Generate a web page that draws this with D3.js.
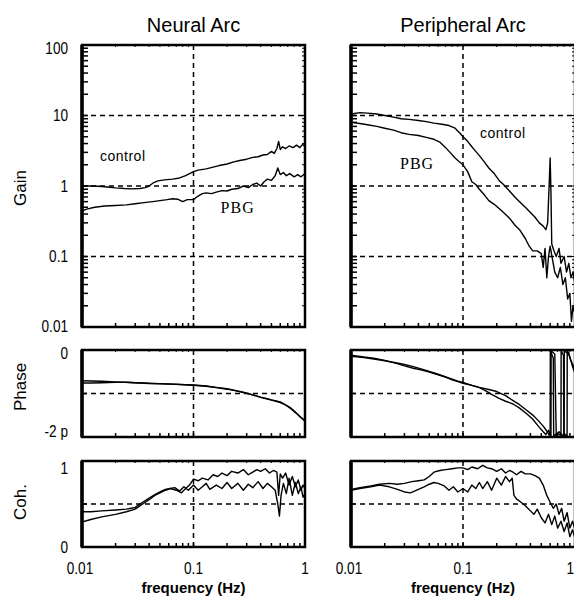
<!DOCTYPE html>
<html>
<head>
<meta charset="utf-8">
<script src="https://cdn.jsdelivr.net/npm/d3@7"></script>
<style>
  body { margin: 0; background: #fff; }
  svg { display: block; }
  .tick-label { font-family: "Liberation Sans", Arial, sans-serif; font-size: 17px; }
</style>
</head>
<body>
<div id="chart"></div>
<script>
// frequency (Hz) / value pairs
const neuralGainControl = [[0.01,1.0],[0.012,1.0],[0.014,0.99],[0.017,0.97],[0.02,0.94],[0.024,0.92],[0.028,0.91],[0.033,0.92],[0.037,0.95],[0.04,1.0],[0.044,1.12],[0.048,1.18],[0.055,1.22],[0.065,1.25],[0.075,1.3],[0.085,1.4],[0.1,1.6],[0.11,1.68],[0.13,1.75],[0.15,1.85],[0.17,1.95],[0.2,2.05],[0.23,2.2],[0.26,2.3],[0.3,2.4],[0.34,2.55],[0.38,2.6],[0.42,2.75],[0.46,2.8],[0.5,3.1],[0.53,2.9],[0.56,3.4],[0.58,4.3],[0.6,3.3],[0.63,3.6],[0.67,3.4],[0.72,3.7],[0.78,3.5],[0.84,3.8],[0.9,3.5],[0.95,3.9],[1.0,3.6]];
const neuralGainPBG = [[0.01,0.44],[0.011,0.47],[0.013,0.5],[0.016,0.52],[0.02,0.53],[0.025,0.54],[0.03,0.56],[0.036,0.58],[0.043,0.6],[0.05,0.62],[0.058,0.64],[0.065,0.66],[0.072,0.65],[0.08,0.6],[0.088,0.64],[0.1,0.64],[0.11,0.72],[0.12,0.78],[0.13,0.8],[0.145,0.78],[0.16,0.82],[0.18,0.86],[0.2,0.85],[0.22,0.9],[0.25,0.92],[0.28,1.0],[0.31,0.95],[0.34,1.05],[0.37,1.1],[0.4,1.0],[0.43,1.15],[0.46,1.25],[0.5,1.2],[0.54,1.4],[0.57,1.8],[0.6,1.45],[0.64,1.55],[0.68,1.4],[0.73,1.5],[0.8,1.35],[0.86,1.45],[0.92,1.35],[1.0,1.5]];
const periphGainControl = [[0.01,10.5],[0.012,11],[0.014,10.8],[0.017,10.5],[0.02,10],[0.024,9.5],[0.028,9.0],[0.033,8.8],[0.04,8.5],[0.047,8.2],[0.055,7.8],[0.065,7.5],[0.075,7.2],[0.085,6.6],[0.095,5.5],[0.1,5.0],[0.11,4.3],[0.12,3.6],[0.13,3.1],[0.14,2.7],[0.155,2.2],[0.17,1.8],[0.19,1.5],[0.21,1.2],[0.23,1.05],[0.26,0.85],[0.29,0.7],[0.32,0.6],[0.36,0.5],[0.4,0.42],[0.44,0.36],[0.48,0.3],[0.52,0.27],[0.55,0.24],[0.57,0.3],[0.59,1.2],[0.6,2.5],[0.61,0.8],[0.62,0.15],[0.65,0.12],[0.68,0.1],[0.72,0.13],[0.75,0.08],[0.8,0.1],[0.84,0.06],[0.88,0.08],[0.92,0.05],[0.96,0.06],[1.0,0.04]];
const periphGainPBG = [[0.01,8.0],[0.012,7.7],[0.014,7.4],[0.017,7.0],[0.02,6.6],[0.024,6.2],[0.028,5.7],[0.033,5.4],[0.04,5.2],[0.047,4.9],[0.055,4.6],[0.062,4.2],[0.07,3.5],[0.078,2.9],[0.085,2.5],[0.09,2.3],[0.1,2.0],[0.11,1.6],[0.12,1.15],[0.13,1.05],[0.14,0.9],[0.155,0.75],[0.17,0.62],[0.19,0.55],[0.21,0.48],[0.23,0.42],[0.26,0.35],[0.29,0.28],[0.32,0.24],[0.36,0.18],[0.39,0.14],[0.42,0.12],[0.46,0.12],[0.5,0.11],[0.52,0.07],[0.54,0.13],[0.56,0.05],[0.58,0.1],[0.6,0.14],[0.63,0.09],[0.66,0.06],[0.7,0.05],[0.74,0.07],[0.78,0.04],[0.82,0.05],[0.86,0.025],[0.9,0.03],[0.93,0.012],[0.96,0.02],[1.0,0.015]];

// phase in radians, axis runs from -2π to 0
const neuralPhaseControl = [[0.01,-2.22],[0.015,-2.26],[0.02,-2.3],[0.03,-2.36],[0.04,-2.4],[0.05,-2.43],[0.07,-2.48],[0.1,-2.53],[0.13,-2.6],[0.16,-2.7],[0.2,-2.8],[0.23,-2.9],[0.28,-3.05],[0.33,-3.2],[0.4,-3.4],[0.46,-3.52],[0.5,-3.6],[0.55,-3.68],[0.6,-3.75],[0.65,-3.9],[0.7,-4.05],[0.75,-4.2],[0.8,-4.4],[0.85,-4.6],[0.9,-4.8],[0.95,-4.95],[1.0,-5.1]];
const neuralPhasePBG = [[0.01,-2.38],[0.012,-2.38],[0.015,-2.36],[0.02,-2.34],[0.025,-2.33],[0.03,-2.37],[0.04,-2.42],[0.05,-2.44],[0.07,-2.47],[0.1,-2.55],[0.13,-2.62],[0.16,-2.72],[0.2,-2.83],[0.23,-2.92],[0.28,-3.08],[0.33,-3.22],[0.4,-3.42],[0.46,-3.55],[0.5,-3.62],[0.55,-3.7],[0.6,-3.8],[0.65,-3.92],[0.7,-4.08],[0.75,-4.25],[0.8,-4.45],[0.85,-4.62],[0.9,-4.82],[0.95,-4.98],[1.0,-5.15]];
const periphPhaseControl = [[0.01,-0.45],[0.013,-0.55],[0.016,-0.65],[0.02,-0.78],[0.025,-0.92],[0.03,-1.05],[0.036,-1.2],[0.043,-1.38],[0.05,-1.55],[0.06,-1.75],[0.07,-1.95],[0.08,-2.1],[0.09,-2.25],[0.1,-2.35],[0.12,-2.55],[0.14,-2.7],[0.17,-2.85],[0.2,-3.0],[0.24,-3.3],[0.28,-3.65],[0.32,-3.95],[0.37,-4.35],[0.42,-4.7],[0.47,-5.1],[0.52,-5.5],[0.56,-5.85],[0.6,-6.25],[0.602,-0.05],[0.64,-0.6],[0.645,-6.2],[0.7,-6.0],[0.75,-6.2],[0.752,-0.05],[0.79,-0.4],[0.795,-6.2],[0.82,-6.1],[0.85,-6.25],[0.852,-0.1],[0.9,-0.5],[0.95,-1.2],[1.0,-1.7]];
const periphPhasePBG = [[0.01,-0.38],[0.013,-0.5],[0.016,-0.6],[0.02,-0.75],[0.025,-0.95],[0.03,-1.15],[0.036,-1.32],[0.043,-1.45],[0.05,-1.6],[0.06,-1.8],[0.07,-1.95],[0.08,-2.15],[0.09,-2.28],[0.1,-2.4],[0.12,-2.55],[0.14,-2.72],[0.16,-2.95],[0.18,-3.2],[0.21,-3.5],[0.24,-3.7],[0.28,-3.9],[0.32,-4.2],[0.37,-4.6],[0.42,-5.0],[0.47,-5.5],[0.52,-5.9],[0.55,-6.1],[0.58,-5.8],[0.61,-6.25],[0.612,-0.05],[0.66,-0.3],[0.68,-6.2],[0.72,-5.9],[0.78,-6.2],[0.8,-6.25],[0.802,-0.1],[0.86,-0.2],[0.88,-0.15],[0.9,-0.6],[0.95,-1.0],[1.0,-1.5]];

// coherence, two traces per arc
const neuralCohA = [[0.01,0.41],[0.012,0.41],[0.015,0.42],[0.02,0.43],[0.025,0.44],[0.03,0.46],[0.035,0.52],[0.04,0.57],[0.045,0.61],[0.05,0.64],[0.056,0.67],[0.062,0.68],[0.07,0.66],[0.078,0.63],[0.085,0.68],[0.092,0.72],[0.1,0.79],[0.11,0.77],[0.12,0.8],[0.135,0.78],[0.15,0.84],[0.165,0.82],[0.18,0.86],[0.2,0.83],[0.22,0.88],[0.25,0.86],[0.28,0.9],[0.31,0.84],[0.34,0.87],[0.37,0.9],[0.4,0.88],[0.44,0.91],[0.48,0.86],[0.52,0.89],[0.56,0.87],[0.58,0.6],[0.6,0.85],[0.63,0.8],[0.67,0.86],[0.72,0.72],[0.77,0.82],[0.82,0.7],[0.87,0.78],[0.92,0.66],[0.96,0.72],[1.0,0.68]];
const neuralCohB = [[0.01,0.29],[0.012,0.32],[0.015,0.35],[0.02,0.38],[0.025,0.41],[0.03,0.44],[0.035,0.5],[0.04,0.55],[0.045,0.6],[0.05,0.63],[0.056,0.66],[0.062,0.68],[0.068,0.69],[0.075,0.65],[0.082,0.7],[0.09,0.66],[0.1,0.72],[0.11,0.66],[0.12,0.7],[0.13,0.74],[0.14,0.67],[0.16,0.72],[0.18,0.68],[0.2,0.75],[0.22,0.68],[0.25,0.74],[0.28,0.66],[0.31,0.73],[0.34,0.69],[0.38,0.76],[0.42,0.68],[0.46,0.74],[0.5,0.7],[0.54,0.66],[0.57,0.5],[0.59,0.36],[0.61,0.6],[0.64,0.74],[0.68,0.62],[0.72,0.8],[0.77,0.6],[0.82,0.75],[0.87,0.62],[0.92,0.7],[0.96,0.58],[1.0,0.62]];
const periphCohA = [[0.01,0.67],[0.012,0.69],[0.015,0.71],[0.018,0.73],[0.022,0.74],[0.026,0.73],[0.03,0.74],[0.035,0.76],[0.04,0.77],[0.045,0.78],[0.05,0.82],[0.055,0.87],[0.062,0.89],[0.07,0.9],[0.08,0.91],[0.09,0.92],[0.1,0.92],[0.11,0.9],[0.12,0.93],[0.135,0.91],[0.15,0.95],[0.165,0.92],[0.18,0.91],[0.2,0.88],[0.22,0.91],[0.24,0.86],[0.26,0.89],[0.28,0.87],[0.3,0.84],[0.33,0.88],[0.36,0.85],[0.4,0.85],[0.44,0.83],[0.48,0.8],[0.52,0.72],[0.56,0.6],[0.6,0.52],[0.64,0.45],[0.68,0.5],[0.72,0.38],[0.76,0.45],[0.8,0.3],[0.85,0.4],[0.9,0.22],[0.95,0.3],[1.0,0.2]];
const periphCohB = [[0.01,0.66],[0.012,0.68],[0.015,0.7],[0.018,0.72],[0.022,0.7],[0.026,0.67],[0.03,0.64],[0.034,0.63],[0.04,0.67],[0.045,0.7],[0.05,0.73],[0.055,0.75],[0.06,0.74],[0.068,0.71],[0.075,0.66],[0.082,0.7],[0.09,0.64],[0.1,0.68],[0.11,0.64],[0.12,0.72],[0.13,0.68],[0.14,0.75],[0.15,0.68],[0.165,0.76],[0.18,0.66],[0.2,0.8],[0.22,0.72],[0.24,0.82],[0.26,0.76],[0.275,0.8],[0.285,0.6],[0.3,0.56],[0.33,0.52],[0.36,0.48],[0.4,0.42],[0.43,0.38],[0.46,0.44],[0.5,0.34],[0.54,0.28],[0.58,0.38],[0.62,0.26],[0.66,0.36],[0.7,0.22],[0.75,0.3],[0.8,0.18],[0.85,0.28],[0.9,0.12],[0.95,0.2],[1.0,0.1]];

const columnTitles = ['Neural Arc', 'Peripheral Arc'];
const freqTicks = [0.01, 0.1, 1];
const freqTickLabels = ['0.01', '0.1', '1'];
const gainTicks = [100, 10, 1, 0.1, 0.01];
const gainTickLabels = ['100', '10', '1', '0.1', '0.01'];
const phaseTicks = [0, -2 * Math.PI];
const phaseTickLabels = ['0', '-2 p'];
const cohTicks = [1, 0];
const cohTickLabels = ['1', '0'];
const annotations = [
  { col: 0, text: 'control', f: 0.0145, g: 2.66, serif: false },
  { col: 0, text: 'PBG', f: 0.175, g: 0.49, serif: true },
  { col: 1, text: 'control', f: 0.142, g: 5.6, serif: false },
  { col: 1, text: 'PBG', f: 0.0274, g: 2.12, serif: true }
];

const svg = d3.select('#chart')
  .append('svg')
    .attr('width', 574)
    .attr('height', 598);

const cols = [{ x0: 82, x1: 305 }, { x0: 351, x1: 575 }];
const rows = [
  { key: 'gain',  y0: 45,  y1: 327, scale: () => d3.scaleLog().domain([0.01, 100]),
    grid: [10, 1, 0.1], ticks: gainTicks, labels: gainTickLabels, dy: [0.55, 0.35, 0.35, 0.35, 0.3],
    series: [[neuralGainControl, neuralGainPBG], [periphGainControl, periphGainPBG]] },
  { key: 'phase', y0: 350, y1: 437, scale: () => d3.scaleLinear().domain([-2 * Math.PI, 0]),
    grid: [-Math.PI], ticks: phaseTicks, labels: phaseTickLabels, dy: [0.5, 0.0],
    series: [[neuralPhaseControl, neuralPhasePBG], [periphPhaseControl, periphPhasePBG]] },
  { key: 'coh',   y0: 461, y1: 547, scale: () => d3.scaleLinear().domain([0, 1]),
    grid: [0.5], ticks: cohTicks, labels: cohTickLabels, dy: [0.75, 0.35],
    series: [[neuralCohA, neuralCohB], [periphCohA, periphCohB]] }
];

const sans = '"Liberation Sans", Arial, sans-serif';

// condensed look of the scanned tick labels
function squeeze(sel, x, y) {
  sel.attr('transform', `translate(${x},${y}) scale(0.8,1)`);
}

rows.forEach((row, ri) => {
  cols.forEach((col, ci) => {
    const x = d3.scaleLog().domain([0.01, 1]).range([col.x0, col.x1]);
    const y = row.scale().range([row.y1, row.y0]);
    const g = svg.append('g');
    const clipId = `clip-${row.key}-${ci}`;

    g.append('clipPath').attr('id', clipId)
      .append('rect')
        .attr('x', col.x0).attr('y', row.y0)
        .attr('width', col.x1 - col.x0).attr('height', row.y1 - row.y0);

    // dashed grid
    g.selectAll('.hgrid')
      .data(row.grid)
      .join('line')
        .attr('x1', col.x0).attr('x2', col.x1)
        .attr('y1', d => y(d)).attr('y2', d => y(d))
        .attr('stroke', '#000').attr('stroke-width', 1.5)
        .attr('stroke-dasharray', '5,4');
    g.append('line')
        .attr('x1', x(0.1)).attr('x2', x(0.1))
        .attr('y1', row.y0).attr('y2', row.y1)
        .attr('stroke', '#000').attr('stroke-width', 1.5)
        .attr('stroke-dasharray', '5,4');

    // traces
    const line = d3.line().x(d => x(d[0])).y(d => y(d[1]));
    g.append('g')
        .attr('clip-path', `url(#${clipId})`)
      .selectAll('path')
      .data(row.series[ci])
      .join('path')
        .attr('d', line)
        .attr('fill', 'none')
        .attr('stroke', '#000')
        .attr('stroke-width', 1.4)
        .attr('stroke-linejoin', 'round');

    // minor ticks along the frequency axis (bottom, inside; top, short)
    const xt = x.ticks();
    g.selectAll('.xtick')
      .data(xt)
      .join('line')
        .attr('x1', d => x(d)).attr('x2', d => x(d))
        .attr('y1', row.y1).attr('y2', row.y1 - 4)
        .attr('stroke', '#000').attr('stroke-width', 1.5);
    g.selectAll('.xtickTop')
      .data(xt)
      .join('line')
        .attr('x1', d => x(d)).attr('x2', d => x(d))
        .attr('y1', row.y0).attr('y2', row.y0 + 2)
        .attr('stroke', '#000').attr('stroke-width', 1);

    if (row.key === 'gain') {
      const yt = y.ticks();
      g.selectAll('.ytick')
        .data(yt)
        .join('line')
          .attr('x1', col.x0).attr('x2', col.x0 + 6)
          .attr('y1', d => y(d)).attr('y2', d => y(d))
          .attr('stroke', '#000').attr('stroke-width', 1.5);
      g.selectAll('.ytickR')
        .data(yt)
        .join('line')
          .attr('x1', col.x1).attr('x2', col.x1 - 3)
          .attr('y1', d => y(d)).attr('y2', d => y(d))
          .attr('stroke', '#000').attr('stroke-width', 1);
    } else {
      g.selectAll('.ytick')
        .data(row.grid)
        .join('line')
          .attr('x1', col.x0).attr('x2', col.x0 + 5)
          .attr('y1', d => y(d)).attr('y2', d => y(d))
          .attr('stroke', '#000').attr('stroke-width', 1.5);
    }

    // frame
    g.append('rect')
        .attr('x', col.x0).attr('y', row.y0)
        .attr('width', col.x1 - col.x0).attr('height', row.y1 - row.y0)
        .attr('fill', 'none')
        .attr('stroke', '#000')
        .attr('stroke-width', 2.5);
    g.append('line')
        .attr('x1', col.x0).attr('x2', col.x0)
        .attr('y1', row.y0).attr('y2', row.y1)
        .attr('stroke', '#000').attr('stroke-width', 3.5);

    // y tick labels on the left column only
    if (ci === 0) {
      g.selectAll('.ylab')
        .data(row.ticks)
        .join('text')
          .attr('class', 'tick-label')
          .attr('text-anchor', 'end')
          .attr('dy', (d, i) => row.dy[i] + 'em')
          .each(function(d) { squeeze(d3.select(this), 68, y(d)); })
          .text((d, i) => row.labels[i]);
    }

    // frequency labels on the bottom row
    if (row.key === 'coh') {
      g.selectAll('.xlab')
        .data(freqTicks)
        .join('text')
          .attr('class', 'tick-label')
          .attr('text-anchor', d => (d === 1 && ci === 1 ? 'end' : 'middle'))
          .each(function(d) {
            const px = d === 1 && ci === 1 ? 574 : x(d) - (d === 0.01 ? 2 : 0);
            squeeze(d3.select(this), px, 574);
          })
          .text((d, i) => freqTickLabels[i]);
      svg.append('text')
          .attr('x', x(0.1))
          .attr('y', 593)
          .attr('text-anchor', 'middle')
          .attr('font-family', sans)
          .attr('font-size', '15px')
          .attr('font-weight', 'bold')
          .text('frequency (Hz)');
    }

    if (ri === 0) {
      svg.append('text')
          .attr('x', x(0.1))
          .attr('y', 32)
          .attr('text-anchor', 'middle')
          .attr('font-family', sans)
          .attr('font-size', '20px')
          .text(columnTitles[ci]);

      annotations.filter(a => a.col === ci).forEach(a => {
        svg.append('text')
            .attr('x', x(a.f))
            .attr('y', y(a.g))
            .attr('dy', '0.35em')
            .attr('font-family', a.serif ? '"Liberation Serif", serif' : sans)
            .attr('font-size', a.serif ? '16px' : '14px')
            .attr('letter-spacing', a.serif ? '1px' : '0.5px')
            .text(a.text);
      });
    }
  });
});

// row titles
[['Gain', 188], ['Phase', 387], ['Coh.', 502]].forEach(([t, cy]) => {
  svg.append('text')
      .attr('transform', `translate(26,${cy}) rotate(-90)`)
      .attr('text-anchor', 'middle')
      .attr('font-family', sans)
      .attr('font-size', '17px')
      .text(t);
});
</script>
</body>
</html>
